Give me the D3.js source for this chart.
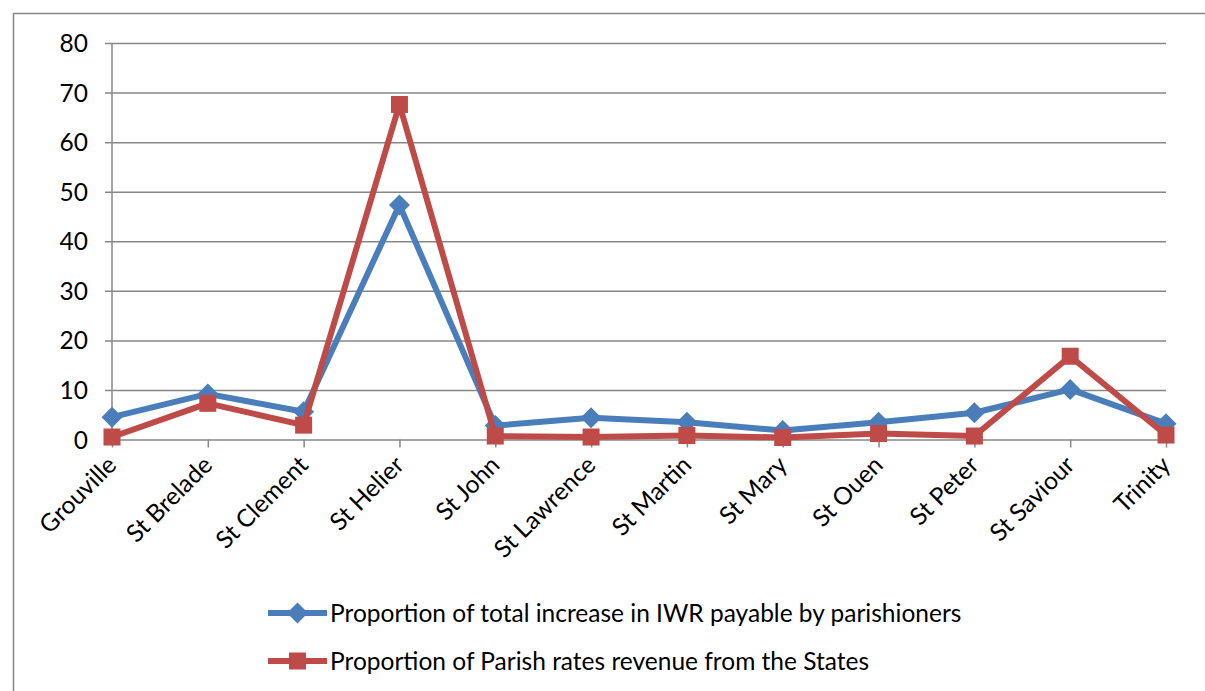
<!DOCTYPE html>
<html>
<head>
<meta charset="utf-8">
<script src="https://cdn.jsdelivr.net/npm/d3@7"></script>
<style>
  html, body { margin: 0; padding: 0; background: #fff; }
  svg { display: block; }
  text { font-family: Lato, "Open Sans", sans-serif; fill: #000; }
</style>
</head>
<body>
<svg id="chart" width="1205" height="691"></svg>
<script>
// Parishes of Jersey
const parishes = ["Grouville", "St Brelade", "St Clement", "St Helier", "St John", "St Lawrence",
                  "St Martin", "St Mary", "St Ouen", "St Peter", "St Saviour", "Trinity"];

// Proportion of total increase in IWR payable by parishioners (%)
const iwrShare = [4.5, 9.2, 5.6, 47.3, 2.8, 4.4, 3.5, 1.8, 3.5, 5.4, 10.1, 3.2];

// Proportion of Parish rates revenue from the States (%)
const statesShare = [0.5, 7.3, 2.9, 67.6, 0.7, 0.5, 0.8, 0.4, 1.2, 0.7, 16.8, 0.9];

const yTicks = [0, 10, 20, 30, 40, 50, 60, 70, 80];

const seriesNames = [
  "Proportion of total increase in IWR payable by parishioners",
  "Proportion of Parish rates revenue from the States"
];
const seriesColors = ["#4a7ebb", "#be4b48"];

const fontSize = "24.5px";
const svg = d3.select("#chart");
const gridColor = "#878787";

// chart frame
svg.append("path")
  .attr("d", "M13.5,700 L13.5,13.5 L1210,13.5")
  .attr("fill", "none").attr("stroke", gridColor).attr("stroke-width", 1.5);

const plot = { left: 112, right: 1166, top: 43, bottom: 439.5 };

const x = d3.scalePoint().domain(parishes).range([plot.left, plot.right]).padding(0);
const y = d3.scaleLinear().domain([0, 80]).range([plot.bottom, plot.top]);

// horizontal gridlines + y ticks
const yAxis = d3.axisLeft(y).tickValues(yTicks).tickSize(-(plot.right - plot.left)).tickSizeOuter(0).tickPadding(24);
const gy = svg.append("g").attr("transform", `translate(${plot.left},0)`).call(yAxis);
gy.select(".domain").remove();
gy.selectAll(".tick line")
  .attr("x1", -7)
  .attr("stroke", gridColor).attr("stroke-width", 1.5);
gy.selectAll(".tick text")
  .style("font-family", "Lato, 'Open Sans', sans-serif")
  .style("font-size", fontSize).attr("fill", "#000").attr("dy", "0.35em");

// vertical axis line
svg.append("line")
  .attr("x1", plot.left).attr("x2", plot.left)
  .attr("y1", y(80)).attr("y2", y(0))
  .attr("stroke", gridColor).attr("stroke-width", 1.5);

// category ticks along the zero line
const xAxis = d3.axisBottom(x).tickSize(8).tickSizeOuter(0).tickFormat("");
const gx = svg.append("g").attr("transform", `translate(0,${plot.bottom})`).call(xAxis);
gx.select(".domain").remove();
gx.selectAll(".tick line").attr("stroke", gridColor).attr("stroke-width", 1.5);

// rotated category labels
svg.append("g").selectAll("text")
  .data(parishes)
  .join("text")
  .attr("transform", d => `translate(${x(d) + 6},${plot.bottom + 27}) rotate(-45)`)
  .attr("text-anchor", "end")
  .style("font-size", fontSize)
  .text(d => d);

const line = d3.line().x((d, i) => x(parishes[i])).y(d => y(d));

const diamond = s => `M0,${-s} L${s},0 L0,${s} L${-s},0 Z`;
const square = s => `M${-s},${-s} H${s} V${s} H${-s} Z`;

const series = [
  { values: iwrShare, color: seriesColors[0], shape: diamond(10.5) },
  { values: statesShare, color: seriesColors[1], shape: square(8.5) }
];

series.forEach(s => {
  svg.append("path")
    .datum(s.values)
    .attr("d", line)
    .attr("fill", "none")
    .attr("stroke", s.color)
    .attr("stroke-width", 6)
    .attr("stroke-linejoin", "round");
  svg.append("g").selectAll("path")
    .data(s.values)
    .join("path")
    .attr("transform", (d, i) => `translate(${x(parishes[i])},${y(d)})`)
    .attr("d", s.shape)
    .attr("fill", s.color);
});

// legend
const legend = svg.append("g");
const legendRows = [613, 661];
series.forEach((s, i) => {
  const row = legend.append("g").attr("transform", `translate(0,${legendRows[i]})`);
  row.append("line")
    .attr("x1", 268).attr("x2", 327)
    .attr("stroke", s.color).attr("stroke-width", 6);
  row.append("path")
    .attr("transform", "translate(297.5,0)")
    .attr("d", s.shape)
    .attr("fill", s.color);
  row.append("text")
    .attr("x", 330).attr("y", 9)
    .style("font-size", fontSize)
    .text(seriesNames[i]);
});
</script>
</body>
</html>
